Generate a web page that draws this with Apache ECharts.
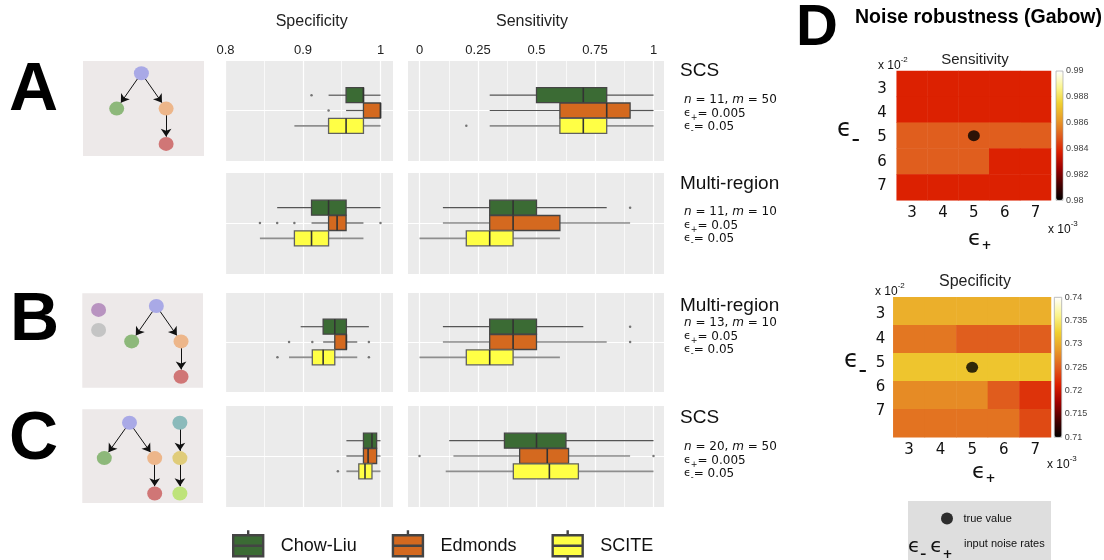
<!DOCTYPE html>
<html><head><meta charset="utf-8">
<script src="https://cdn.jsdelivr.net/npm/echarts@6/dist/echarts.min.js"></script>
<style>html,body{margin:0;padding:0;background:#fff}#c{width:1104px;height:560px}</style>
</head><body><div id="c"></div>
<script>
// ---------------- DATA ----------------
const methods = ['Chow-Liu', 'Edmonds', 'SCITE'];
// box statistics per method: [min, Q1, median, Q3, max]
const specA1 = [[0.933, 0.9556, 0.978, 0.978, 1.0], [0.9556, 0.978, 1.0, 1.0, 1.0], [0.8889, 0.933, 0.9556, 0.978, 1.0]];
const sensA1 = [[0.3, 0.5, 0.7, 0.8, 1.0], [0.3, 0.6, 0.8, 0.9, 1.0], [0.3, 0.6, 0.7, 0.8, 1.0]];
const specA2 = [[0.8667, 0.911, 0.933, 0.9556, 1.0], [0.911, 0.933, 0.944, 0.9556, 0.978], [0.8444, 0.8889, 0.911, 0.933, 0.978]];
const sensA2 = [[0.1, 0.3, 0.4, 0.5, 0.8], [0.1, 0.3, 0.4, 0.6, 0.9], [0.0, 0.2, 0.3, 0.4, 0.6]];
const specB = [[0.897, 0.926, 0.941, 0.956, 0.985], [0.926, 0.941, 0.956, 0.956, 0.970], [0.882, 0.912, 0.926, 0.941, 0.970]];
const sensB = [[0.1, 0.3, 0.4, 0.5, 0.7], [0.1, 0.3, 0.4, 0.5, 0.8], [0.0, 0.2, 0.3, 0.4, 0.6]];
const specC = [[0.956, 0.978, 0.989, 0.995, 1.0], [0.956, 0.978, 0.984, 0.995, 1.0], [0.956, 0.972, 0.980, 0.989, 1.0]];
const sensC = [[0.127, 0.363, 0.5, 0.626, 1.0], [0.145, 0.428, 0.546, 0.637, 0.9], [0.112, 0.401, 0.555, 0.679, 1.0]];
// outliers: [value, method index]
const specA1Out = [[0.911, 0], [0.933, 1]];
const sensA1Out = [[0.2, 2]];
const specA2Out = [[0.8444, 1], [0.8667, 1], [0.8889, 1], [1.0, 1]];
const sensA2Out = [[0.9, 0]];
const specBOut = [[0.882, 1], [0.912, 1], [0.985, 1], [0.867, 2], [0.985, 2]];
const sensBOut = [[0.9, 0], [0.9, 1]];
const specCOut = [[0.945, 2]];
const sensCOut = [[0.0, 1], [1.0, 1]];

// noise robustness heatmaps (rows: eps-, cols: eps+)
const epsPlus = ['3', '4', '5', '6', '7'];
const epsMinus = ['3', '4', '5', '6', '7'];
const trueEps = ['5', '5'];
const sensHeat = [
  [0.9838, 0.9838, 0.9838, 0.9838, 0.9838],
  [0.9838, 0.9838, 0.9838, 0.9838, 0.9838],
  [0.9850, 0.9850, 0.9850, 0.9850, 0.9850],
  [0.9850, 0.9850, 0.9850, 0.9838, 0.9838],
  [0.9838, 0.9838, 0.9838, 0.9838, 0.9838]
];
const specHeat = [
  [0.7301, 0.7301, 0.7301, 0.7301, 0.7301],
  [0.7265, 0.7265, 0.7250, 0.7250, 0.7250],
  [0.7317, 0.7317, 0.7317, 0.7317, 0.7317],
  [0.7277, 0.7277, 0.7277, 0.7249, 0.7225],
  [0.7263, 0.7263, 0.7263, 0.7263, 0.7238]
];

// tree diagrams: node [column, level], edges [from, to]
const treeANodes = [[1, 0], [0, 1], [2, 1], [2, 2]];
const treeAEdges = [[0, 1], [0, 2], [2, 3]];
const treeBNodes = [[1, 0], [0, 1], [2, 1], [2, 2], [-1.34, 0.11], [-1.34, 0.68]];
const treeBEdges = [[0, 1], [0, 2], [2, 3]];
const treeCNodes = [[1, 0], [0, 1], [2, 1], [2, 2], [3, 0], [3, 1], [3, 2]];
const treeCEdges = [[0, 1], [0, 2], [2, 3], [4, 5], [5, 6]];

// ---------------- STYLE ----------------
const FS = 'Liberation Sans';
const FD = 'DejaVu Sans';
const boxFill = ['#3B6B34', '#D4691F', '#FFFF45'];
const boxLine = ['#454545', '#454545', '#606060'];
const whiskColor = ['#555555', '#555555', '#8e8e8e'];
const whiskWidth = [1.2, 1.2, 1.8];
const nodeColA = ['#A9A9E6', '#8DB87A', '#EDB68A', '#D07676'];
const nodeColB = ['#A9A9E6', '#8DB87A', '#EDB68A', '#D07676', '#B893C0', '#C4C4C4'];
const nodeColC = ['#A9A9E6', '#8DB87A', '#EDB68A', '#D07676', '#8BBABB', '#E0CC7A', '#BEE37A'];
const HOT = ['#000000', '#4a0000', '#a00000', '#dc1e00', '#e05e1e', '#e89c28', '#f0d030', '#fbf590', '#ffffff'];

const grid = [], xAxis = [], yAxis = [], series = [], graphic = [];
function addGrid(g) { grid.push(Object.assign({ outerBoundsMode: 'none', containLabel: false, show: false }, g)); return grid.length - 1; }
function addX(a) { xAxis.push(a); return xAxis.length - 1; }
function addY(a) { yAxis.push(a); return yAxis.length - 1; }

const specCol = { bgLeft: 226, bgWidth: 167, lineLeft: 225.5, lineWidth: 155, min: 0.8, max: 1, interval: 0.1 };
const sensCol = { bgLeft: 408, bgWidth: 256, lineLeft: 419.5, lineWidth: 234, min: 0, max: 1, interval: 0.25 };
const rows = [{ top: 60, h: 101 }, { top: 172, h: 102 }, { top: 292, h: 100 }, { top: 405, h: 102 }];
const BOX_STEP = 15.3;   // px between dodged boxes
const BOX_H = 15;        // px box thickness

function boxRenderer(i) {
  return function (params, api) {
    const mi = api.value(0);
    const p = [1, 2, 3, 4, 5].map(function (k) { return api.coord([api.value(k), mi]); });
    const y = p[0][1], hh = BOX_H / 2;
    return { type: 'group', children: [
      { type: 'line', shape: { x1: p[0][0], y1: y, x2: p[1][0], y2: y }, style: { stroke: whiskColor[i], lineWidth: whiskWidth[i] } },
      { type: 'line', shape: { x1: p[3][0], y1: y, x2: p[4][0], y2: y }, style: { stroke: whiskColor[i], lineWidth: whiskWidth[i] } },
      { type: 'rect', shape: { x: p[1][0], y: y - hh, width: p[3][0] - p[1][0], height: BOX_H }, style: { fill: boxFill[i], stroke: boxLine[i], lineWidth: 1.3 } },
      { type: 'line', shape: { x1: p[2][0], y1: y - hh, x2: p[2][0], y2: y + hh }, style: { stroke: '#333', lineWidth: 1.6 } }
    ] };
  };
}

function boxPanel(col, row, stats, outs, showLabels) {
  const bg = addGrid({ left: col.bgLeft, top: row.top, width: col.bgWidth, height: row.h, show: true, backgroundColor: '#EBEBEB', borderWidth: 0 });
  addX({ gridIndex: bg, type: 'value', min: 0, max: 1, show: false });
  addY({ gridIndex: bg, type: 'value', min: 0, max: 2, interval: 1, axisLine: { show: false }, axisTick: { show: false }, axisLabel: { show: false }, splitLine: { show: true, lineStyle: { color: '#ffffff', width: 1.2 } } });
  const ln = addGrid({ left: col.lineLeft, top: row.top, width: col.lineWidth, height: row.h });
  const xi = addX({ gridIndex: ln, type: 'value', position: 'top', min: col.min, max: col.max, interval: col.interval,
    axisLine: { show: false }, axisTick: { show: false },
    axisLabel: { show: showLabels, fontSize: 13, fontFamily: FS, color: '#222', margin: 3 },
    splitLine: { show: true, lineStyle: { color: '#ffffff', width: 1.2 } },
    minorTick: { show: false, splitNumber: 2 },
    minorSplitLine: { show: true, lineStyle: { color: '#ffffff', width: 0.7 } } });
  const half = row.h / 2 / BOX_STEP;
  const yv = addY({ gridIndex: ln, type: 'value', inverse: true, min: 1 - half, max: 1 + half, show: false });
  methods.forEach(function (m, i) {
    series.push({ type: 'custom', name: m, xAxisIndex: xi, yAxisIndex: yv, silent: true, clip: false,
      data: [[i].concat(stats[i])], encode: { x: [1, 2, 3, 4, 5], y: 0 },
      itemStyle: { color: boxFill[i] }, renderItem: boxRenderer(i) });
  });
  series.push({ type: 'scatter', xAxisIndex: xi, yAxisIndex: yv, data: outs, symbolSize: 2.5, silent: true, itemStyle: { color: '#555' } });
}

boxPanel(specCol, rows[0], specA1, specA1Out, true);
boxPanel(sensCol, rows[0], sensA1, sensA1Out, true);
boxPanel(specCol, rows[1], specA2, specA2Out, false);
boxPanel(sensCol, rows[1], sensA2, sensA2Out, false);
boxPanel(specCol, rows[2], specB, specBOut, false);
boxPanel(sensCol, rows[2], sensB, sensBOut, false);
boxPanel(specCol, rows[3], specC, specCOut, false);
boxPanel(sensCol, rows[3], sensC, sensCOut, false);

// ---------------- TREES ----------------
function tree(box, ext, nodes, edges, colors) {
  const g = addGrid({ left: box[0], top: box[1], width: box[2], height: box[3], show: true, backgroundColor: '#EDE9E9', borderWidth: 0 });
  const xi = addX({ gridIndex: g, type: 'value', min: ext[0], max: ext[1], show: false });
  const yi = addY({ gridIndex: g, type: 'value', inverse: true, min: ext[2], max: ext[3], show: false });
  series.push({ type: 'graph', coordinateSystem: 'cartesian2d', xAxisIndex: xi, yAxisIndex: yi, silent: true,
    symbolSize: [15, 14], edgeSymbol: ['none', 'arrow'], edgeSymbolSize: 8,
    label: { show: false }, lineStyle: { color: '#111', width: 1, opacity: 1 },
    data: nodes.map(function (p, i) { return { name: 'n' + i, value: p, itemStyle: { color: colors[i] } }; }),
    links: edges.map(function (e) { return { source: 'n' + e[0], target: 'n' + e[1] }; }) });
}
tree([83, 61, 121, 95], [-1.364, 3.534, -0.348, 2.343], treeANodes, treeAEdges, nodeColA);
tree([82.3, 293.3, 120.7, 94.4], [-2.0, 2.89, -0.36, 2.31], treeBNodes, treeBEdges, nodeColB);
tree([82.3, 409.3, 120.7, 93.7], [-0.873, 3.917, -0.38, 2.27], treeCNodes, treeCEdges, nodeColC);

// ---------------- HEATMAPS ----------------
function cells(m) { const out = []; m.forEach(function (r, yi) { r.forEach(function (v, xi) { out.push([xi, yi, v]); }); }); return out; }
const heatIdx = [];
function heat(box, labBox, labMargin, values, cb, range, step) {
  const g = addGrid({ left: box[0], top: box[1], width: box[2], height: box[3] });
  const xi = addX({ gridIndex: g, type: 'category', data: epsPlus, axisLine: { show: false }, axisTick: { show: false },
    axisLabel: { fontSize: 15, fontFamily: FD, color: '#111', margin: 5 }, splitLine: { show: false } });
  const yi = addY({ gridIndex: g, type: 'category', data: epsMinus, inverse: true, show: false });
  const lg = addGrid({ left: box[0], top: labBox[0], width: 10, height: labBox[1] });
  addX({ gridIndex: lg, type: 'value', show: false });
  addY({ gridIndex: lg, type: 'category', data: epsMinus, inverse: true, axisLine: { show: false }, axisTick: { show: false },
    axisLabel: { fontSize: 15, fontFamily: FD, color: '#111', margin: labMargin } });
  heatIdx.push(series.length);
  series.push({ type: 'heatmap', xAxisIndex: xi, yAxisIndex: yi, data: cells(values), silent: true, itemStyle: { borderWidth: 0 } });
  series.push({ type: 'scatter', name: 'true value', xAxisIndex: xi, yAxisIndex: yi, data: [trueEps], symbolSize: [12, 11], silent: true, itemStyle: { color: '#000' }, z: 5 });
  const cg = addGrid({ left: cb[0], top: cb[1], width: cb[2], height: cb[3], show: true, backgroundColor: 'transparent', borderColor: '#9a9a9a', borderWidth: 0.6, z: 6 });
  addX({ gridIndex: cg, type: 'value', show: false });
  addY({ gridIndex: cg, type: 'value', position: 'right', min: range[0], max: range[1], interval: step,
    axisLine: { show: false }, axisTick: { show: false }, splitLine: { show: false },
    axisLabel: { fontSize: 9, fontFamily: FS, color: '#444', margin: 3 } });
}
heat([896.7, 71, 154.3, 129.3], [76.5, 121.7], 10, sensHeat, [1056, 71, 7, 129.3], [0.98, 0.99], 0.002);
heat([893.3, 297.3, 157.7, 140], [302.5, 121], 8, specHeat, [1054.3, 297.3, 7.4, 140], [0.71, 0.74], 0.005);

// ---------------- TEXT ----------------
function txt(x, y, text, o) {
  graphic.push({ type: 'text', x: x, y: y, silent: true, z: 10,
    style: Object.assign({ text: text, fontFamily: FS, fontSize: 14, fill: '#111', align: 'left', verticalAlign: 'middle' }, o || {}) });
}
txt(311.7, 22, 'Specificity', { fontSize: 16, align: 'center', fill: '#222' });
txt(532, 22, 'Sensitivity', { fontSize: 16, align: 'center', fill: '#222' });
txt(9, 91, 'A', { fontSize: 68, fontWeight: 'bold', fill: '#000' });
txt(10, 321, 'B', { fontSize: 68, fontWeight: 'bold', fill: '#000' });
txt(9, 440, 'C', { fontSize: 68, fontWeight: 'bold', fill: '#000' });
txt(796, 29, 'D', { fontSize: 58, fontWeight: 'bold', fill: '#000' });
txt(855, 18, 'Noise robustness (Gabow)', { fontSize: 19.5, fontWeight: 'bold', fill: '#000' });

const paramRich = {
  i: { fontFamily: FD, fontSize: 12, fontStyle: 'italic', lineHeight: 14, verticalAlign: 'top', fill: '#111' },
  t: { fontFamily: FD, fontSize: 12, lineHeight: 14, verticalAlign: 'top', fill: '#111' },
  e: { fontFamily: FD, fontSize: 11, lineHeight: 14, verticalAlign: 'top', fill: '#111' },
  s: { fontFamily: FD, fontSize: 8, lineHeight: 8, verticalAlign: 'bottom', fill: '#111' }
};
function heading(y, name) { txt(680, y, name, { fontSize: 19, fill: '#111' }); }
function plines(y0, n, m, ep, em) {
  const lines = ['{i|n}{t| = ' + n + ', }{i|m}{t| = ' + m + '}', '{e|ϵ}{s|+}{t|= ' + ep + '}', '{e|ϵ}{s|-}{t|= ' + em + '}'];
  lines.forEach(function (l, k) { txt(684, y0 + k * 13.5, l, { rich: paramRich }); });
}
heading(71, 'SCS'); plines(101, 11, 50, '0.005', '0.05');
heading(184, 'Multi-region'); plines(213, 11, 10, '0.05', '0.05');
heading(306, 'Multi-region'); plines(324, 13, 10, '0.05', '0.05');
heading(418, 'SCS'); plines(448, 20, 50, '0.005', '0.05');

// heatmap annotation
txt(975, 60, 'Sensitivity', { fontSize: 15, align: 'center', fill: '#222' });
txt(975, 282, 'Specificity', { fontSize: 16, align: 'center', fill: '#222' });
const supRich = { a: { fontFamily: FS, fontSize: 12, lineHeight: 16, verticalAlign: 'bottom', fill: '#111' }, p: { fontFamily: FS, fontSize: 8, lineHeight: 8, verticalAlign: 'top', fill: '#111' } };
txt(878, 64, '{a|x 10}{p|-2}', { rich: supRich });
txt(875, 290, '{a|x 10}{p|-2}', { rich: supRich });
txt(1048, 228, '{a|x 10}{p|-3}', { rich: supRich });
txt(1047, 462.5, '{a|x 10}{p|-3}', { rich: supRich });
const epsMRich = { e: { fontFamily: FD, fontSize: 24, lineHeight: 30, verticalAlign: 'top', fill: '#111' }, s: { fontFamily: FD, fontSize: 16, fontWeight: 'bold', lineHeight: 16, verticalAlign: 'bottom', fill: '#111' } };
const epsPRich = { e: { fontFamily: FD, fontSize: 22, lineHeight: 24, verticalAlign: 'top', fill: '#111' }, s: { fontFamily: FD, fontSize: 12, fontWeight: 'bold', lineHeight: 12, padding: [18, 0, 0, 0], verticalAlign: 'bottom', fill: '#111' } };
txt(837, 133, '{e|ϵ}{s|–}', { rich: epsMRich });
txt(844, 364, '{e|ϵ}{s|–}', { rich: epsMRich });
txt(968, 240, '{e|ϵ}{s|+}', { rich: epsPRich });
txt(972, 473, '{e|ϵ}{s|+}', { rich: epsPRich });

// noise legend box
graphic.push({ type: 'rect', shape: { x: 908, y: 501, width: 143, height: 59 }, style: { fill: '#DEDEDE' }, silent: true, z: 1 });
const epsLRich = { e: { fontFamily: FD, fontSize: 20, lineHeight: 24, verticalAlign: 'top', fill: '#111' }, s: { fontFamily: FD, fontSize: 12, fontWeight: 'bold', lineHeight: 12, padding: [14, 0, 0, 0], verticalAlign: 'bottom', fill: '#111' } };
txt(908, 549, '{e|ϵ}{s|–} {e|ϵ}{s|+}', { rich: epsLRich });
txt(964, 544, 'input noise rates', { fontSize: 11, fill: '#111' });

const option = {
  animation: false,
  backgroundColor: '#ffffff',
  grid: grid, xAxis: xAxis, yAxis: yAxis, series: series, graphic: graphic,
  legend: [
    { data: methods.map(function (m, i) { return { name: m, itemStyle: { color: boxFill[i], borderColor: '#444', borderWidth: 2.4 } }; }),
      left: 232, top: 529, orient: 'horizontal', itemGap: 35, itemWidth: 31, itemHeight: 31, padding: 0,
      icon: 'path://M0,5H30V15.5H0Z M0,15.5H30V26H0Z M15,0V5 M15,26V31',
      textStyle: { fontSize: 18, fontFamily: FS, color: '#111', padding: [0, 0, 0, 12] }, selectedMode: false },
    { data: ['true value'], left: 941, top: 512.5, icon: 'circle', itemWidth: 13, itemHeight: 12, padding: 0, z: 6,
      textStyle: { fontSize: 11, fontFamily: FS, color: '#111', padding: [0, 0, 0, 5] }, selectedMode: false }
  ],
  visualMap: [
    { type: 'continuous', seriesIndex: heatIdx[0], dimension: 2, min: 0.98, max: 0.99, inRange: { color: HOT }, calculable: false,
      orient: 'vertical', itemWidth: 7, itemHeight: 129.3, left: 1056, top: 71, padding: 0, hoverLink: false },
    { type: 'continuous', seriesIndex: heatIdx[1], dimension: 2, min: 0.71, max: 0.74, inRange: { color: HOT }, calculable: false,
      orient: 'vertical', itemWidth: 7.4, itemHeight: 140, left: 1054.3, top: 297.3, padding: 0, hoverLink: false }
  ]
};
const chart = echarts.init(document.getElementById('c'), null, { renderer: 'canvas' });
chart.setOption(option);
</script></body></html>
